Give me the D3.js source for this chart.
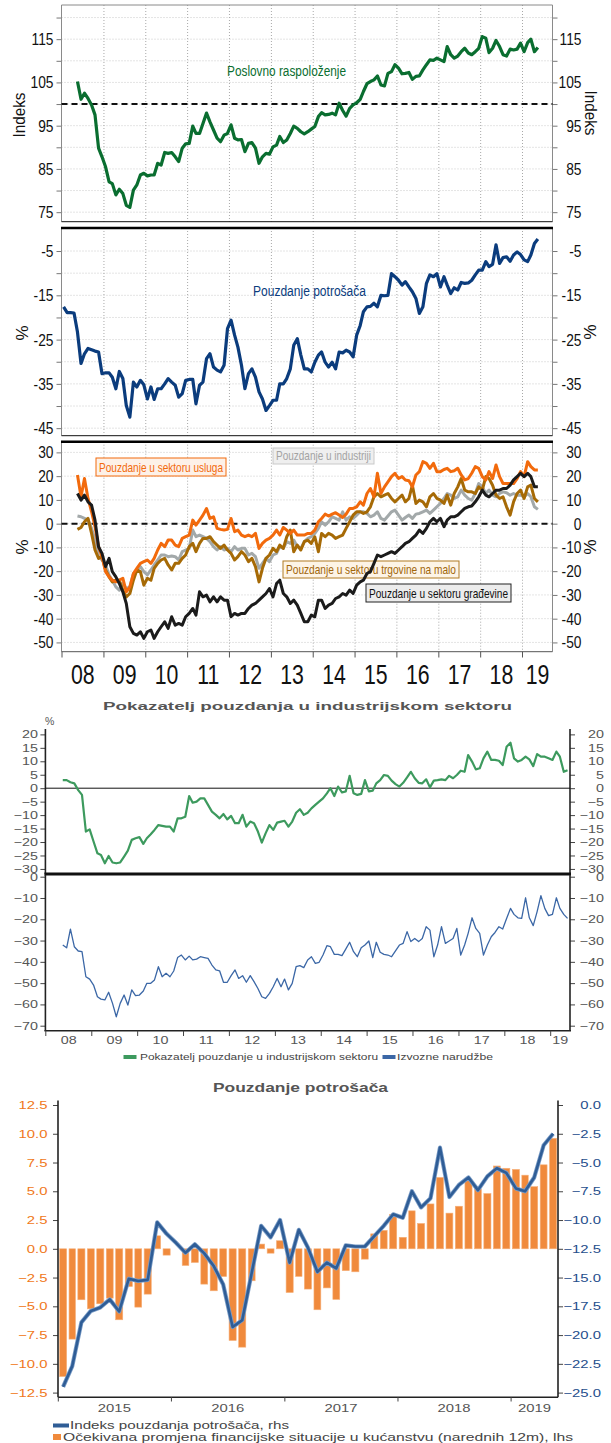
<!DOCTYPE html>
<html>
<head>
<meta charset="utf-8">
<script src="https://cdn.jsdelivr.net/npm/d3@7"></script>
<style>
body { margin: 0; background: #fff; }
svg text { font-family: "Liberation Sans", Arial, sans-serif; }
</style>
</head>
<body>
<svg id="chart" width="611" height="1443"></svg>
<script>
// ---- data (monthly) ----
// business sentiment, May 2008 - May 2019
var business = [105.2,101.1,102.5,101.3,99.8,97.5,89.8,87.8,
  85.5,82,81.6,79,80.3,79.3,76.6,76.1,80.1,81.3,83.6,84,
  83.4,83.6,83.6,86.3,85.9,88.8,88.6,88.8,87.8,86.7,89.8,90.8,
  90.9,94.9,93.2,93.2,95.5,97.9,95.9,94,92.1,91.3,92.8,93.2,
  95.2,92.1,91.7,91.8,89,90.9,91.1,89.8,86.3,87.8,88.6,88.4,
  90.1,90.5,92.5,91.1,91.7,93.2,94.9,94.4,93.6,93.1,93.6,94.2,
  94.8,97.1,98,97.5,97.6,97.9,97.5,100.2,98.5,97.2,99,99.8,
  100.3,101.1,102.9,104.7,105.2,105.6,106.5,104.4,104.2,107.1,107.5,109.1,
  108.3,107,107.1,107.3,105.7,106.4,106.5,107.9,109.1,110.2,110.1,110.6,
  110.2,109.8,113.3,111.4,110.6,111.1,112.1,112.9,111.8,111.4,112.1,112.9,
  115.6,115.2,111.9,112.9,114.7,113.3,111.4,111.1,112.7,112.5,112.7,114.1,
  112.1,114.2,115,112.1,113.1];

// consumer confidence, Jan 2008 - May 2019
var consumer = [-17.6,-18.9,-18.9,-19,-23.3,-30.4,-28.2,-27,-27.3,-27.6,-27.8,-32.7,
  -32.5,-32.5,-33.5,-36.1,-32.2,-33.8,-39.9,-42.5,-34.6,-35.7,-34.2,-35.2,
  -38.4,-35.7,-38.5,-36.1,-36.1,-35,-33.8,-34.6,-35.3,-38,-37.2,-34.2,
  -34,-34,-39.5,-35.3,-34.6,-29.3,-28.2,-31.2,-31.9,-32.3,-30.8,-22.5,
  -20.6,-24,-26.7,-30.8,-36.1,-32.7,-31.6,-33.5,-36.8,-38.4,-41,-39.9,
  -38.7,-38.7,-35,-35,-33.8,-31.6,-26.3,-24.8,-28.5,-31.6,-31.6,-32.3,
  -30.1,-28.5,-27.8,-30.1,-31.2,-30.1,-31.6,-27.8,-28,-27.4,-27.8,-28.9,
  -24,-21.8,-18.7,-17.6,-17.5,-16.8,-17.6,-15,-15.1,-15,-10.1,-10.8,
  -11.6,-12.7,-11.9,-13.1,-14.2,-15.7,-19.1,-17.6,-12.3,-10.4,-10.8,-10.1,
  -13.1,-10.8,-12.7,-14.6,-13.3,-13.8,-12.1,-12.3,-12.2,-11.6,-10.4,-9.3,
  -9.3,-7.4,-8.5,-8,-3.6,-7.8,-6.5,-6.3,-7.3,-5.9,-5.2,-5.8,
  -7,-7.4,-5.9,-3.3,-2.3];

// sector confidence, May 2008 - May 2019
var services = [20.5,11.3,19,10.6,5,-1.3,-9.7,-13.9,
  -20.2,-22.4,-23.8,-24.5,-23.8,-23,-28.7,-26.6,-21,-18.8,-16.7,-16,
  -15.3,-16.7,-14.6,-11.1,-8.3,-9.7,-6.9,-6.9,-9,-9.7,-6.2,-5.5,
  -4.8,1.5,-0.6,1.5,3.6,6.4,2.2,2.9,-2,-2.4,-2.7,-2.4,
  2.2,-3.4,-2.7,-4.8,-5.5,-4.8,-5.5,-4.1,-10.4,-8.3,-6.9,-6.2,
  -4.8,-2.7,-4.8,-1.6,-2.7,-4.1,-2.7,-4.8,-4.8,-4.8,-4.1,-4.1,
  -2.7,0.8,2.2,4,3.2,4,4.6,3.6,2.6,4,6.4,6.4,
  7.1,9.2,7.8,12.7,14.8,11.3,21.2,12.7,15.5,17.6,19.8,21.2,
  19,19.8,18.4,18.1,15.5,20.5,21.9,26.1,25.4,23.3,25.4,21.9,
  21.9,22.8,23.3,21.9,22.3,23.3,20.5,18.4,19,21.2,24,23.3,
  19.8,18.4,21.9,19,24.7,19.8,16.9,16.9,16.9,16.9,19,21.9,
  19.8,26.1,24,22.6,22.6];
var industry = [3.2,2.9,2.2,1.5,-2,-6.9,-13.9,-15.3,
  -17.4,-21.6,-23.8,-26.6,-28,-25.2,-27.3,-26.6,-21,-19.5,-18.1,-20.2,
  -21.6,-19.5,-17.4,-15.3,-13.2,-13.2,-13.9,-13.6,-13.9,-15.3,-11.8,-11.1,
  -10.4,-2.7,-5.5,-4.8,-5.5,-6.2,-7.6,-9.7,-11.1,-9.7,-11.1,-10.4,
  -11.8,-9.7,-11.1,-10.4,-10.4,-13.2,-12.5,-13.9,-18.8,-16.7,-14.6,-16,
  -13.2,-12.5,-9.7,-10.4,-7.6,-8.3,-6.9,-9.7,-10.4,-7.6,-6.2,-5.5,
  -4.1,-2,0.8,-0.6,0.8,2.9,2.2,1.5,5,1.5,2.9,2.2,
  3.6,5,5,4.3,2.9,3.6,5,2.2,1.5,3.2,5,5.7,
  3.6,1.5,2.6,3.6,2.2,4,4.3,5,5.7,4.3,5.7,7.1,
  8.5,10.6,12.7,12,10.6,11.3,14.1,12,10.6,9.9,12.7,16.9,
  15.5,12.7,14.1,12,11.3,12.7,13.4,13,12,12.7,12,12,
  11.3,12.7,11.3,7.1,6];
var retail = [-2.4,-1.6,0.8,2.2,-4.1,-11.1,-14.6,-13.9,
  -19.5,-22.4,-24.5,-23.8,-23.8,-28,-30.8,-29.4,-23.8,-19.5,-20.2,-25.9,
  -23,-23.8,-18.8,-16.7,-15.3,-14.6,-17.4,-19.5,-16.7,-16.7,-14.6,-13.2,
  -9.7,-8.3,-11.8,-8.3,-6.2,-6.2,-5.5,-7.6,-9,-10.4,-9,-11.1,
  -12.5,-15.3,-13.9,-11.8,-13.2,-16,-14.6,-18.1,-24.5,-18.8,-14.6,-13.2,
  -10.4,-11.8,-9,-10.4,-5.5,-2.7,-11.8,-9,-11.1,-7.6,-6.9,-8.3,
  -5.5,-11.8,-4.1,-5.5,-4.1,-4.8,-6.2,-5.5,-4.8,-2,0.8,3.6,
  5,5,4.3,5,7.1,11.3,12.7,11.3,12,12.7,10.6,9.2,
  10.6,12,9.2,10.6,16.2,8.5,9.9,9.2,7.1,11.3,12.7,10.6,
  9.9,8.5,12,7.8,12.7,15.5,19,14.1,13.4,13.4,12.7,15.5,
  14.1,19.8,19,16.2,12,10.6,11.3,7.1,3.6,9.2,12.7,14.1,
  10.6,15.5,16.2,10.6,9.2];
var construction = [12.7,9.9,12,9.2,7.8,1.5,-9.7,-12.5,
  -18.1,-14.6,-20.2,-22.4,-25.2,-28.7,-33.6,-43.4,-46.2,-46.9,-45.5,-48.3,
  -45.5,-44.8,-48.3,-45.5,-43.4,-41.3,-44.1,-39.2,-42.7,-42,-42.7,-39.2,
  -37.8,-35.7,-38.5,-28.7,-30.8,-30.1,-32.9,-30.8,-32.9,-30.8,-32.2,-32.2,
  -39.2,-37.8,-38.5,-37.8,-37.8,-35.7,-34.3,-33.6,-32.2,-30.8,-29.4,-27.3,
  -30.8,-25.2,-23.8,-29.4,-30.8,-33.6,-32.2,-34.3,-37.8,-41.3,-41.3,-38.5,
  -39.2,-32.2,-32.2,-35.7,-34.3,-33.6,-31.5,-30.8,-29.4,-30.1,-28,-29.4,
  -25.9,-24.5,-23.8,-21,-20.2,-16.7,-13.2,-13.9,-13.2,-12.5,-11.8,-12.5,
  -11.1,-9.7,-8.3,-7.6,-6.2,-4.8,-2.7,-4.1,-2,0.8,2.2,0.8,
  2.2,-1.3,1.5,2.9,2.9,3.6,5,6.4,7.1,7.4,9.2,11.3,
  14.1,12,11.3,12.7,14.1,14.1,14.8,14.8,16.2,18.4,19.8,21.2,
  19.8,21.2,19.8,15.5,15.5];

// industry confidence indicator and export orders, May 2008 - May 2019
var industryIndicator = [3,3,2.2,1.8,-0.7,-2.5,-16.1,-15.3,
  -19.8,-24.2,-24.8,-27.9,-25.2,-27.6,-27.9,-27.6,-25.4,-23.2,-19.2,-18.6,
  -18.2,-20.7,-18.6,-17.1,-15.5,-13.7,-14,-14.3,-14.3,-16.1,-11.2,-11.2,
  -10.6,-2.9,-5.4,-5,-3.8,-3.8,-6.2,-8.7,-9.9,-11.2,-9.6,-11.6,
  -10.3,-13,-13,-9.9,-14.3,-12.4,-13,-16.1,-20.2,-16.8,-13.7,-15.5,
  -12.8,-12.4,-12.1,-14.3,-12.4,-9.1,-7.8,-9.9,-9.1,-7.5,-6.2,-5,
  -3.8,-1.9,0,-2.9,0.6,-1.6,-1.2,4.6,-1.9,-2.5,-2.1,3,
  -1.2,-0.9,1.8,3,4.9,4.6,2.8,1.5,0.6,2,4,6.1,
  3.7,2,1.8,3.3,0.3,2.8,3,3.3,3,4.6,3.7,4.9,
  6.5,6.1,12.3,9.9,7,7.4,11.1,13.6,10.5,10.5,10.2,8.6,
  15.4,16.9,11.1,9.9,10.5,11.7,10.7,8.2,12.7,11.7,11.7,11.1,
  10.5,13.6,11.7,6.1,6.7];
var exportOrders = [-32.1,-33.4,-24.6,-32.9,-34.9,-35.2,-47,-48.1,
  -50.9,-56.4,-57.5,-57.9,-54.3,-59.5,-65.8,-59.5,-55.6,-60.3,-53.2,-55.9,
  -55.6,-53.7,-50.1,-50.1,-48.5,-42.3,-47,-45.4,-47,-44.3,-38,-36.8,
  -39.1,-37.3,-39.1,-38.7,-37.6,-38,-38.4,-41.5,-43.8,-44.2,-49.6,-49.6,
  -46.5,-43.8,-47.8,-46.5,-49.6,-46.5,-49.3,-52.5,-56.4,-57.2,-54.8,-51.7,
  -47.8,-51.7,-48.1,-53.2,-50.1,-42.3,-41.8,-42.7,-39.1,-37.6,-40.7,-40.2,
  -36.8,-32.4,-32.9,-36.5,-36.5,-37.1,-34,-30.8,-35.2,-37.6,-33.4,-32.1,
  -30.2,-38,-30.8,-35.5,-36.5,-36.8,-37.6,-34.9,-32.1,-31.3,-25.8,-30.5,
  -29,-30.5,-29,-23.5,-25.1,-37.6,-32.1,-23.5,-31.3,-30.2,-29,-24.3,
  -36.8,-32.1,-26.6,-19.3,-24.3,-26.6,-36.8,-32.1,-28.2,-26.2,-23.5,-24.6,
  -19.6,-14.9,-17.7,-19.3,-19.6,-9.9,-19.3,-23,-16.4,-8.9,-14.9,-18.3,
  -17.7,-9.9,-14.9,-17.7,-19.6];

// household expectations (lhs) and consumer confidence index (rhs), Jan 2015 - May 2019
var householdExp = [-11.1,-7.85,-4.43,-5.22,-4.78,-4.29,-6.17,-3.28,-5.07,-3.94,1.13,-0.55,
  0,-1.45,-1.19,-3.07,-3.65,-2.41,-7.97,-8.55,-2.78,0.41,-0.38,0.7,
  -3.8,-2.4,-3.5,-5.3,-3.4,-4.4,-1.9,-2.0,-0.9,1.3,1.6,3.0,
  1.0,3.3,2.2,3.9,6.2,3.1,3.7,6.0,5.2,4.8,7.2,7.0,
  6.9,6.4,5.4,7.3,9.6];
var consumerIdx = [-24.5,-22.7,-18.9,-17.9,-17.6,-16.9,-17.95,-15.1,-15.3,-15.2,-10.2,-11.2,
  -12.0,-12.85,-12.1,-12.9,-14.0,-15.6,-19.3,-18.7,-14.6,-10.5,-11.5,-10.0,
  -13.7,-10.85,-12.4,-14.5,-13.7,-14.2,-12.2,-12.3,-12.3,-11.4,-10.5,-9.5,
  -9.8,-7.5,-8.9,-8.1,-3.7,-8.0,-6.95,-6.3,-7.4,-6.2,-5.5,-5.9,
  -7.25,-7.5,-6.3,-3.5,-2.5];

var yearLabels = ["08","09","10","11","12","13","14","15","16","17","18","19"];
var yearLabels6 = ["2015","2016","2017","2018","2019"];

// ---- helpers ----
var svg = d3.select("#chart");

function monthly(y0, m0, arr) {
  return arr.map(function(v, i) { return {date: new Date(y0, m0 + i, 15), v: v}; });
}
// stretch or squeeze a text to a share of its natural width
function squeeze(sel, k) {
  sel.each(function() {
    var w = this.getComputedTextLength();
    if (w > 0) d3.select(this).attr("textLength", w * k).attr("lengthAdjust", "spacingAndGlyphs");
  });
}
function fit(sel, w) {
  sel.attr("textLength", w).attr("lengthAdjust", "spacingAndGlyphs");
}

// ================= upper block (three stacked panels) =================
var L = 61.5, R = 552.5;
var xTop = d3.scaleTime()
  .domain([new Date(2008, 0, 1), new Date(2019, 0, 1)])
  .range([62, 522.5]);
var yearDates = d3.range(2009, 2020).map(function(y) { return new Date(y, 0, 1); });

function frame(y, top, bottom, tickVals, labelVals) {
  var g = svg.append("g");
  g.selectAll("line.hg").data(tickVals).enter().append("line")
    .attr("x1", L).attr("x2", R)
    .attr("y1", function(d) { return y(d); }).attr("y2", function(d) { return y(d); })
    .attr("stroke", "#c9c9c9").attr("stroke-dasharray", "1,2");
  g.selectAll("line.vg").data(yearDates).enter().append("line")
    .attr("x1", function(d) { return xTop(d); }).attr("x2", function(d) { return xTop(d); })
    .attr("y1", top).attr("y2", bottom)
    .attr("stroke", "#a8a8a8").attr("stroke-dasharray", "1,2");

  var fmt = function(d) { return labelVals.indexOf(d) >= 0 ? String(d) : ""; };
  var la = g.append("g").attr("transform", "translate(" + L + ",0)")
    .call(d3.axisLeft(y).tickValues(tickVals).tickFormat(fmt).tickSize(5).tickPadding(3));
  var ra = g.append("g").attr("transform", "translate(" + R + ",0)")
    .call(d3.axisRight(y).tickValues(tickVals).tickFormat(fmt).tickSize(5).tickPadding(3));
  ra.selectAll("text").attr("text-anchor", "end").attr("x", 29);
  [la, ra].forEach(function(a) {
    a.select(".domain").remove();
    a.selectAll("line").attr("stroke", "#777");
    a.selectAll("text").attr("font-size", 17).attr("fill", "#111");
    squeeze(a.selectAll("text"), 0.81);
  });
  g.append("line").attr("x1", L).attr("x2", L).attr("y1", top).attr("y2", bottom).attr("stroke", "#8a8a8a");
  g.append("line").attr("x1", R).attr("x2", R).attr("y1", top).attr("y2", bottom).attr("stroke", "#8a8a8a");
  return g;
}

function sideLabel(txt, x, y, rot, w) {
  var t = svg.append("text")
    .attr("transform", "translate(" + x + "," + y + ") rotate(" + rot + ")")
    .attr("text-anchor", "middle").attr("dy", "0.35em")
    .attr("font-size", 17).attr("fill", "#111")
    .text(txt);
  if (w) fit(t, w);
}

function drawLine(data, x, y, color, width) {
  svg.append("path").datum(data)
    .attr("fill", "none").attr("stroke", color).attr("stroke-width", width)
    .attr("stroke-linejoin", "round")
    .attr("d", d3.line().x(function(d) { return x(d.date); }).y(function(d) { return y(d.v); }));
}

// ---- panel 1: business sentiment
var y1 = d3.scaleLinear().domain([72.8, 122.9]).range([221.7, 5]);
frame(y1, 5, 221.7, d3.range(75, 121, 5), [75, 85, 95, 105, 115]);
svg.append("line").attr("x1", L).attr("x2", R).attr("y1", 5).attr("y2", 5).attr("stroke", "#8a8a8a");
svg.append("line").attr("x1", L).attr("x2", R).attr("y1", y1(100)).attr("y2", y1(100))
  .attr("stroke", "#111").attr("stroke-width", 2).attr("stroke-dasharray", "6,4");
drawLine(monthly(2008, 4, business), xTop, y1, "#0a6e30", 3.2);
svg.append("line").attr("x1", L).attr("x2", R).attr("y1", 221.7).attr("y2", 221.7).attr("stroke", "#111");
fit(svg.append("text").attr("x", 227).attr("y", 76).attr("font-size", 14).attr("fill", "#0a6e30")
  .text("Poslovno raspoloženje"), 119);
sideLabel("Indeks", 19, 115, -90, 45);
sideLabel("Indeks", 591, 113, 90, 45);

// ---- panel 2: consumer confidence
var y2 = d3.scaleLinear().domain([-46.7, 0.2]).range([435.7, 228]);
frame(y2, 228, 435.7, d3.range(-45, -4, 5), [-45, -35, -25, -15, -5]);
drawLine(monthly(2008, 0, consumer), xTop, y2, "#0b3c7d", 3.2);
svg.append("line").attr("x1", L - 0.5).attr("x2", R + 0.5).attr("y1", 228).attr("y2", 228)
  .attr("stroke", "#000").attr("stroke-width", 2.6);
svg.append("line").attr("x1", L).attr("x2", R).attr("y1", 435.7).attr("y2", 435.7).attr("stroke", "#111");
fit(svg.append("text").attr("x", 253).attr("y", 296).attr("font-size", 14).attr("fill", "#0b3c7d")
  .text("Pouzdanje potrošača"), 113);
sideLabel("%", 22, 333, -90);
sideLabel("%", 590, 332, 90);

// ---- panel 3: sector confidence
var y3 = d3.scaleLinear().domain([-53.9, 34.5]).range([651.7, 441.7]);
frame(y3, 441.7, 651.7, d3.range(-50, 31, 10), d3.range(-50, 31, 10));
svg.append("line").attr("x1", L).attr("x2", R).attr("y1", y3(0)).attr("y2", y3(0))
  .attr("stroke", "#111").attr("stroke-width", 2).attr("stroke-dasharray", "6,4");

function labelBox(txt, x0, y0, x1, y1b, fill, stroke, color) {
  svg.append("rect").attr("x", x0).attr("y", y0).attr("width", x1 - x0).attr("height", y1b - y0)
    .attr("fill", fill).attr("stroke", stroke).attr("stroke-width", 1);
  fit(svg.append("text").attr("x", (x0 + x1) / 2).attr("y", y1b - 4.5).attr("text-anchor", "middle")
    .attr("font-size", 13).attr("fill", color).text(txt), x1 - x0 - 6);
}
labelBox("Pouzdanje u sektoru trgovine na malo", 283, 561, 459, 578, "#fdf4e6", "#b07a22", "#a1660a");

drawLine(monthly(2008, 4, industry), xTop, y3, "#a3a9aa", 3);
drawLine(monthly(2008, 4, retail), xTop, y3, "#a66a06", 3);
drawLine(monthly(2008, 4, services), xTop, y3, "#f26a0c", 3);
drawLine(monthly(2008, 4, construction), xTop, y3, "#1b1b1b", 3);

labelBox("Pouzdanje u sektoru usluga", 96, 458, 226, 476, "#fdf1e8", "#f26a0c", "#f26a0c");
labelBox("Pouzdanje u industriji", 273, 448, 374, 464, "#efefef", "#c9c9c9", "#a3a3a3");
labelBox("Pouzdanje u sektoru građevine", 366, 584, 511, 602, "#ececec", "#222", "#111");

svg.append("line").attr("x1", L - 0.5).attr("x2", R + 0.5).attr("y1", 441.7).attr("y2", 441.7)
  .attr("stroke", "#000").attr("stroke-width", 2.6);
svg.append("line").attr("x1", L).attr("x2", R).attr("y1", 651.7).attr("y2", 651.7).attr("stroke", "#555");
sideLabel("%", 22, 547, -90);
sideLabel("%", 590, 547, 90);

// bottom year axis for the upper block
var tickDates = d3.range(2008, 2020).map(function(y) { return new Date(y, 0, 1); });
svg.selectAll("line.yt").data(tickDates).enter().append("line")
  .attr("x1", function(d) { return xTop(d); }).attr("x2", function(d) { return xTop(d); })
  .attr("y1", 651.7).attr("y2", 657.5).attr("stroke", "#555");
var yl = svg.selectAll("text.yl").data(yearLabels).enter().append("text")
  .attr("x", function(d, i) { return i < 11 ? xTop(new Date(2008 + i, 6, 1)) : (xTop(new Date(2019, 0, 1)) + R) / 2; })
  .attr("y", 684).attr("text-anchor", "middle").attr("font-size", 28).attr("fill", "#111")
  .text(function(d) { return d; });
squeeze(yl, 0.76);

// ================= industry indicator / export orders =================
var L4 = 45.4, R4 = 570;
var x4 = d3.scaleTime()
  .domain([new Date(2008, 0, 1), new Date(2019, 0, 1)])
  .range([45.8, 550.7]);

fit(svg.append("text").attr("x", 307.5).attr("y", 709.5).attr("text-anchor", "middle")
  .attr("font-size", 11.5).attr("font-weight", "bold").attr("fill", "#555")
  .text("Pokazatelj pouzdanja u industrijskom sektoru"), 409);
svg.append("text").attr("x", 45).attr("y", 725).attr("font-size", 10.5).attr("fill", "#555").text("%");

// left and right value axes; the right one may use its own scale
function sideAxes(o) {
  var fmt = o.fmt || d3.format("");
  var la = svg.append("g").attr("transform", "translate(" + o.L + ",0)")
    .call(d3.axisLeft(o.yL).tickValues(o.ticksL).tickFormat(fmt).tickSize(5).tickPadding(o.L - 5 - o.leftEnd));
  var ra = svg.append("g").attr("transform", "translate(" + o.R + ",0)")
    .call(d3.axisRight(o.yR || o.yL).tickValues(o.ticksR || o.ticksL).tickFormat(fmt).tickSize(5));
  ra.selectAll("text").attr("text-anchor", "end").attr("x", o.rightEnd - o.R);
  la.selectAll("text").attr("fill", o.colL || "#555");
  ra.selectAll("text").attr("fill", o.colR || "#555");
  [la, ra].forEach(function(a) {
    a.select(".domain").remove();
    a.selectAll("line").attr("stroke", "#444");
    a.selectAll("text").attr("font-size", 11);
    squeeze(a.selectAll("text"), o.k);
  });
  [o.L, o.R].forEach(function(x) {
    svg.append("line").attr("x1", x).attr("x2", x).attr("y1", o.top).attr("y2", o.bottom)
      .attr("stroke", "#222").attr("stroke-width", 1.6);
  });
}

// ---- panel 4
var y4 = d3.scaleLinear().domain([-31.7, 22]).range([873.5, 729]);
sideAxes({yL: y4, ticksL: d3.range(-30, 21, 5), top: 729, bottom: 874,
  L: L4, R: R4, leftEnd: 38, rightEnd: 604, k: 1.3});
svg.append("line").attr("x1", L4).attr("x2", R4).attr("y1", y4(0)).attr("y2", y4(0)).attr("stroke", "#111");
drawLine(monthly(2008, 4, industryIndicator), x4, y4, "#3d9a5e", 2.2);
svg.append("line").attr("x1", L4 - 1).attr("x2", R4 + 1).attr("y1", 874).attr("y2", 874)
  .attr("stroke", "#111").attr("stroke-width", 2.8);

// ---- panel 5
var y5 = d3.scaleLinear().domain([-72.35, 0.8]).range([1030.7, 875]);
sideAxes({yL: y5, ticksL: d3.range(-70, 1, 10), top: 875, bottom: 1030.7,
  L: L4, R: R4, leftEnd: 38, rightEnd: 604, k: 1.3});
drawLine(monthly(2008, 4, exportOrders), x4, y5, "#3b67a6", 1.3);
svg.append("line").attr("x1", L4 - 1).attr("x2", R4 + 1).attr("y1", 1030.7).attr("y2", 1030.7)
  .attr("stroke", "#222").attr("stroke-width", 1.6);
var ticks4 = d3.range(2008, 2020).map(function(y) { return new Date(y, 0, 1); });
svg.selectAll("line.t5").data(ticks4).enter().append("line")
  .attr("x1", function(d) { return x4(d); }).attr("x2", function(d) { return x4(d); })
  .attr("y1", 1030.7).attr("y2", 1036).attr("stroke", "#444");
var yl5 = svg.selectAll("text.yl5").data(yearLabels).enter().append("text")
  .attr("x", function(d, i) { return i < 11 ? x4(new Date(2008 + i, 6, 1)) : (x4(new Date(2019, 0, 1)) + R4) / 2; })
  .attr("y", 1044).attr("text-anchor", "middle").attr("font-size", 11).attr("fill", "#555")
  .text(function(d) { return d; });
squeeze(yl5, 1.3);

// legend
svg.append("rect").attr("x", 123.5).attr("y", 1055).attr("width", 13).attr("height", 4).attr("fill", "#3d9a5e");
fit(svg.append("text").attr("x", 140).attr("y", 1060).attr("font-size", 9.5).attr("fill", "#444")
  .text("Pokazatelj pouzdanje u industrijskom sektoru"), 238);
svg.append("rect").attr("x", 382.5).attr("y", 1055).attr("width", 13).attr("height", 4).attr("fill", "#3b67a6");
fit(svg.append("text").attr("x", 397).attr("y", 1060).attr("font-size", 9.5).attr("fill", "#444")
  .text("Izvozne narudžbe"), 96);

// ================= consumer confidence, bars and line =================
var L6 = 58, R6 = 558;
var x6 = d3.scaleTime()
  .domain([new Date(2015, 0, 1), new Date(2019, 0, 1)])
  .range([58.3, 511.1]);
var y6L = d3.scaleLinear().domain([-12.9, 12.9]).range([1397.2, 1100.4]);
var y6R = d3.scaleLinear().domain([-25.4, 0.4]).range([1397.2, 1100.4]);

fit(svg.append("text").attr("x", 300.5).attr("y", 1091.5).attr("text-anchor", "middle")
  .attr("font-size", 12).attr("font-weight", "bold").attr("fill", "#555")
  .text("Pouzdanje potrošača"), 175);

sideAxes({yL: y6L, yR: y6R, ticksL: d3.range(-12.5, 12.6, 2.5), ticksR: d3.range(-25, 0.1, 2.5),
  fmt: d3.format(".1f"), top: 1100.4, bottom: 1397.2, L: L6, R: R6, leftEnd: 47.5, rightEnd: 601,
  colL: "#f07820", colR: "#1f4e8c", k: 1.35});

var bars = householdExp.map(function(v, i) {
  var a = x6(new Date(2015, i, 1)), b = x6(new Date(2015, i + 1, 1));
  return {x: a + (b - a) * 0.13, w: (b - a) * 0.74, v: v};
});
svg.selectAll("rect.bar").data(bars).enter().append("rect")
  .attr("x", function(d) { return d.x; })
  .attr("y", function(d) { return Math.min(y6L(d.v), y6L(0)); })
  .attr("width", function(d) { return d.w; })
  .attr("height", function(d) { return Math.abs(y6L(d.v) - y6L(0)); })
  .attr("fill", "#f08a3c").attr("stroke", "#f6b07a").attr("stroke-width", 0.6);

var line6 = consumerIdx.map(function(v, i) {
  var a = x6(new Date(2015, i, 1)), b = x6(new Date(2015, i + 1, 1));
  return {x: (a + b) / 2, v: v};
});
var path6 = d3.line().x(function(d) { return d.x; }).y(function(d) { return y6R(d.v); });
svg.append("path").datum(line6)
  .attr("fill", "none").attr("stroke", "#7a9cc6").attr("stroke-width", 4.2).attr("stroke-linejoin", "round")
  .attr("d", path6);
svg.append("path").datum(line6)
  .attr("fill", "none").attr("stroke", "#2f5d96").attr("stroke-width", 2.6).attr("stroke-linejoin", "round")
  .attr("d", path6);

svg.append("line").attr("x1", L6).attr("x2", R6).attr("y1", 1397.2).attr("y2", 1397.2)
  .attr("stroke", "#222").attr("stroke-width", 1.6);
var ticks6 = d3.range(2015, 2020).map(function(y) { return new Date(y, 0, 1); });
svg.selectAll("line.t6").data(ticks6).enter().append("line")
  .attr("x1", function(d) { return x6(d); }).attr("x2", function(d) { return x6(d); })
  .attr("y1", 1397.2).attr("y2", 1401.5).attr("stroke", "#444");
var yl6 = svg.selectAll("text.yl6").data(yearLabels6).enter().append("text")
  .attr("x", function(d, i) { return i < 4 ? x6(new Date(2015 + i, 6, 1)) : (x6(new Date(2019, 0, 1)) + R6) / 2; })
  .attr("y", 1411.5).attr("text-anchor", "middle").attr("font-size", 11).attr("fill", "#555")
  .text(function(d) { return d; });
squeeze(yl6, 1.35);

// legend
svg.append("rect").attr("x", 53).attr("y", 1423.5).attr("width", 16).attr("height", 4).attr("fill", "#2f5d96");
fit(svg.append("text").attr("x", 70).attr("y", 1429).attr("font-size", 11).attr("fill", "#444")
  .text("Indeks pouzdanja potrošača, rhs"), 219);
svg.append("rect").attr("x", 53).attr("y", 1434).attr("width", 8).attr("height", 6).attr("fill", "#f08a3c");
fit(svg.append("text").attr("x", 63).attr("y", 1441).attr("font-size", 11).attr("fill", "#444")
  .text("Očekivana promjena financijske situacije u kućanstvu (narednih 12m), lhs"), 510);
</script>
</body>
</html>
